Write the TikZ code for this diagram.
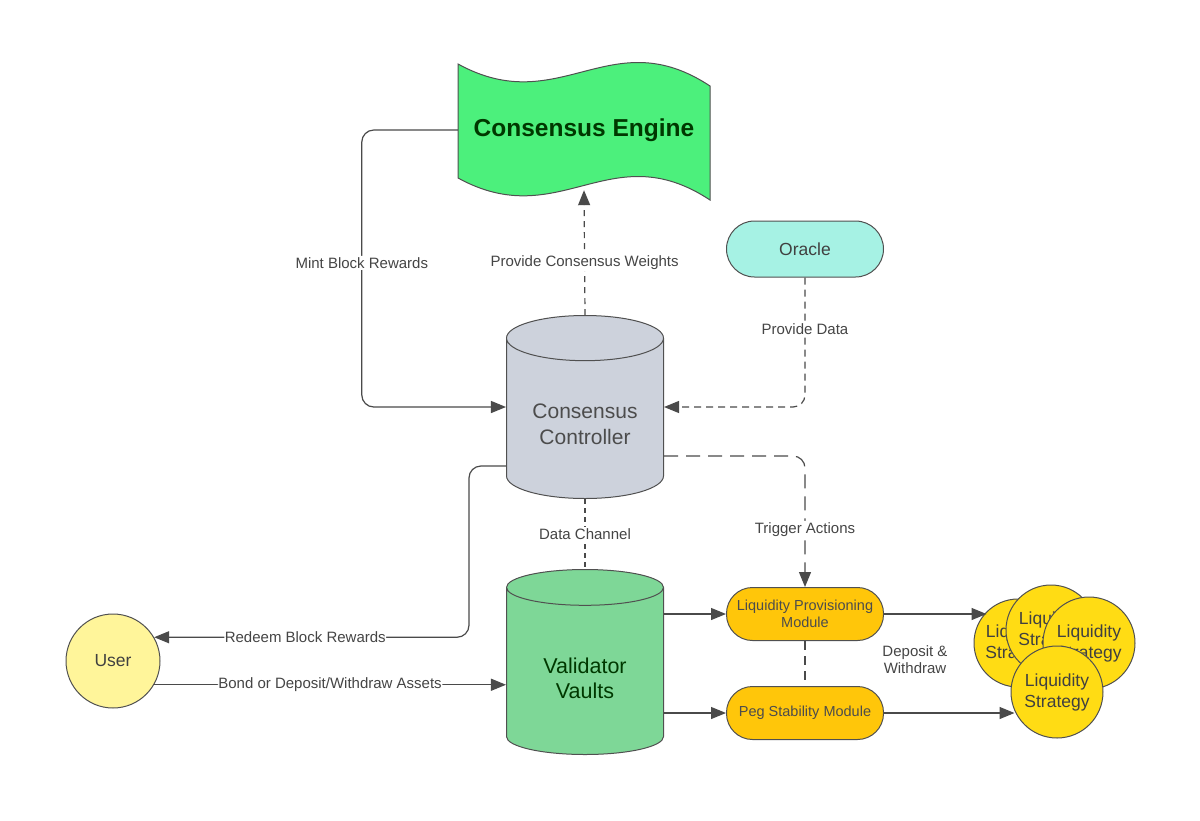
\documentclass[tikz,border=0pt]{standalone}
\usepackage{fontspec}
\setmainfont{Liberation Sans}
\usetikzlibrary{shapes.geometric, arrows.meta}

\definecolor{enginegreen}{HTML}{4CF07C}
\definecolor{ctrlgrey}{HTML}{CDD2DC}
\definecolor{vaultgreen}{HTML}{7ED797}
\definecolor{oraclecyan}{HTML}{A6F2E4}
\definecolor{useryellow}{HTML}{FFF59A}
\definecolor{modgold}{HTML}{FFC60A}
\definecolor{stratyellow}{HTML}{FFDC14}
\definecolor{edgegrey}{HTML}{505050}
\definecolor{linegrey}{HTML}{4A4A4A}
\definecolor{labelgrey}{HTML}{454545}

% lower a two-line text inside a cylinder without changing its box
\newcommand{\lowtext}[3]{\raisebox{#1}[\height][\depth]{\begin{tabular}{@{}c@{}}#2\\#3\end{tabular}}}

\begin{document}
\begin{tikzpicture}[x=1pt, y=-1pt,
    box/.style={draw=edgegrey, line width=1pt},
    db/.style={box, cylinder, shape border rotate=90, aspect=0.43, anchor=shape center, minimum width=157pt, minimum height=183pt, inner sep=0pt},
    pill/.style={box, rectangle, rounded corners=26pt, minimum width=157pt, minimum height=53pt, align=center, inner sep=0pt},
    strat/.style={box, circle, fill=stratyellow, minimum size=90pt, inner sep=0pt, align=center, font=\fontsize{17.5}{21}\selectfont, text=black!75},
    link/.style={draw=linegrey, line width=1.2pt, rounded corners=12pt},
    flow/.style={link, -{Triangle[length=15pt, width=12pt]}},
    lbl/.style={fill=white, inner sep=1.5pt, text=labelgrey, font=\fontsize{15}{17}\selectfont}
]
    \useasboundingbox (0,0) rectangle (1200,820);

    % Consensus Engine (wave)
    \draw[box, fill=enginegreen] (458,64) .. controls (560,120) and (610,20) .. (710,86)
        -- (710,200) .. controls (610,134) and (560,234) .. (458,178) -- cycle;
    \node[minimum width=252pt, minimum height=120pt, inner sep=0pt, font=\fontsize{24.5}{28}\selectfont\bfseries, text=green!22!black] (engine) at (584,130) {Consensus Engine};

    % Oracle
    \node[pill, fill=oraclecyan, minimum height=56pt, rounded corners=28pt, font=\fontsize{17.5}{20}\selectfont, text=black!75] (oracle) at (805,249) {Oracle};

    % Controller and vaults
    \node[db, fill=ctrlgrey, font=\fontsize{21}{26}\selectfont, text=black!70] (ctrl) at (585,407) {\lowtext{-8pt}{Consensus}{Controller}};
    \node[db, fill=vaultgreen, minimum height=185pt, font=\fontsize{21.5}{25}\selectfont, text=green!22!black] (vault) at (585,662) {\lowtext{-10pt}{Validator}{Vaults}};

    % User
    \node[box, circle, fill=useryellow, minimum size=94pt, inner sep=0pt, font=\fontsize{17.5}{20}\selectfont, text=black!75] (user) at (113,661) {User};

    % Modules
    \node[pill, fill=modgold, font=\fontsize{14.5}{17}\selectfont, text=black!70] (lpm) at (805,614) {Liquidity Provisioning\\Module};
    \node[pill, fill=modgold, font=\fontsize{14.5}{17}\selectfont, text=black!70] (psm) at (805,713) {Peg Stability Module};

    % Strategies
    \node[strat, minimum size=88pt] (s1) at (1018,643) {Liquidity\\Strategy};
    \node[strat] (s2) at (1051,630) {Liquidity\\Strategy};
    \node[strat, minimum size=92pt] (s3) at (1089,643) {Liquidity\\Strategy};
    \node[strat, minimum size=92pt] (s4) at (1057,692) {Liquidity\\Strategy};

    % Connectors
    \draw[flow, dash pattern=on 6pt off 5pt] (ctrl.top) -- (engine.south) node[lbl, pos=0.42] {Provide Consensus Weights};
    \draw[flow] (engine.west) -- ++(-96,0) |- (ctrl.west |- ctrl.shape center) node[lbl, pos=0.24] {Mint Block Rewards};
    \draw[flow, dash pattern=on 7pt off 5pt] (oracle.south) |- (ctrl.east |- ctrl.shape center) node[lbl, pos=0.2] {Provide Data};
    \draw[flow, dash pattern=on 14pt off 8pt] ([yshift=-49pt]ctrl.east |- ctrl.shape center) -| (lpm.north) node[lbl, pos=0.78] {Trigger Actions};
    \draw[link, dash pattern=on 5pt off 4pt] (ctrl.bottom) -- (vault.top) node[lbl, midway] {Data Channel};
    \draw[flow] ([yshift=-59pt]ctrl.west |- ctrl.shape center) -- ++(-37,0) |- (user.30) node[lbl, pos=0.76, inner sep=0.5pt] {Redeem Block Rewards};
    \draw[flow] (user.-30) -- (user.-30 -| vault.west) node[lbl, midway, inner sep=0.5pt] {Bond or Deposit/Withdraw Assets};
    \draw[flow] (lpm.west -| vault.east) -- (lpm.west);
    \draw[flow] (psm.west -| vault.east) -- (psm.west);
    \draw[link, dash pattern=on 9pt off 6pt] (lpm.south) -- (psm.north);
    \draw[flow] (lpm.east) -- (lpm.east -| s1.135);
    \draw[flow] (psm.east) -- (psm.east -| s4.204);
    \node[text=labelgrey, align=center, font=\fontsize{15}{17}\selectfont] (dw) at (915,660) {Deposit \&\\Withdraw};
\end{tikzpicture}
\end{document}
